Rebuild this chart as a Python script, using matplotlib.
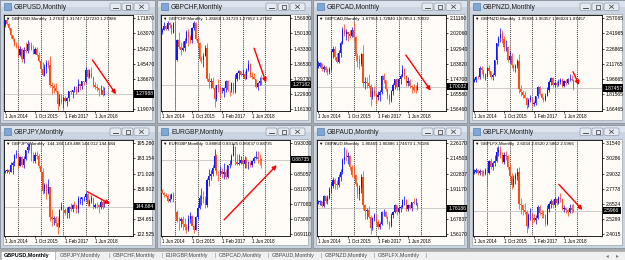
import matplotlib.pyplot as plt
import matplotlib.patches as mpatches
from matplotlib.transforms import blended_transform_factory
import numpy as np

plt.rcParams['font.family'] = ['Liberation Sans', 'DejaVu Sans']

# MONTHLY BARS: index 0 = Jun 2014 ... 53 = Nov 2018
date_pos    = [0, 16, 32, 48]
date_labels = ['1 Jun 2014', '1 Oct 2015', '1 Feb 2017', '1 Jun 2018']
year_starts = [7, 19, 31, 43, 55]          # yearly period separators

# GBPUSD
gbpusd_open0 = 1.6812
gbpusd_close = [1.7105, 1.6878, 1.6596, 1.6211, 1.6000, 1.5640, 1.5577, 1.5059, 1.5434, 1.4834,
                1.5346, 1.5280, 1.5711, 1.5618, 1.5337, 1.5127, 1.5433, 1.5040, 1.4736, 1.4251,
                1.3919, 1.4363, 1.4612, 1.4480, 1.3311, 1.3234, 1.3128, 1.2970, 1.2232, 1.2483,
                1.2340, 1.2574, 1.2417, 1.2551, 1.2948, 1.2884, 1.3025, 1.3205, 1.2933, 1.3398,
                1.3284, 1.3527, 1.3512, 1.4190, 1.3774, 1.4030, 1.3765, 1.3298, 1.3205, 1.3122,
                1.2999, 1.3032, 1.27637, 1.27988]
gbpusd_high  = [1.7110, 1.7192, 1.6924, 1.6644, 1.6227, 1.6069, 1.5786, 1.5588, 1.5552, 1.5448,
                1.5498, 1.5815, 1.5930, 1.5803, 1.5818, 1.5659, 1.5509, 1.5507, 1.5242, 1.4815,
                1.4668, 1.4515, 1.4770, 1.4770, 1.5018, 1.3481, 1.3373, 1.3445, 1.2988, 1.2775,
                1.2774, 1.2706, 1.2706, 1.2615, 1.2966, 1.3048, 1.3031, 1.3234, 1.3269, 1.3657,
                1.3339, 1.3548, 1.3549, 1.4346, 1.4230, 1.4245, 1.4377, 1.3790, 1.3473, 1.3363,
                1.3143, 1.3298, 1.3258, 1.31747]
gbpusd_low   = [1.6693, 1.6823, 1.6536, 1.6052, 1.5874, 1.5591, 1.5486, 1.4951, 1.4990, 1.4633,
                1.4565, 1.5170, 1.5170, 1.5330, 1.5330, 1.5107, 1.5106, 1.5028, 1.4660, 1.4080,
                1.3836, 1.3835, 1.4007, 1.4330, 1.3229, 1.2798, 1.2865, 1.2918, 1.1841, 1.2086,
                1.2200, 1.1988, 1.2346, 1.2109, 1.2365, 1.2772, 1.2589, 1.2933, 1.2774, 1.2910,
                1.3027, 1.3062, 1.3301, 1.3459, 1.3712, 1.3712, 1.3710, 1.3204, 1.3101, 1.2957,
                1.2662, 1.2786, 1.2696, 1.27230]
gbpusd_ticks = [1.71870, 1.63070, 1.54270, 1.45470, 1.36670, 1.27870, 1.19070]
gbpusd_arrow = [46.6, 1.477, 59.2, 1.278]

# GBPCHF
gbpchf_open0 = 1.5060
gbpchf_close = [1.5185, 1.5350, 1.5230, 1.5480, 1.5400, 1.5040, 1.5480, 1.3820, 1.4700, 1.4420,
                1.4290, 1.4360, 1.4690, 1.5090, 1.4850, 1.4740, 1.5240, 1.5470, 1.4760, 1.4580,
                1.3870, 1.3810, 1.4020, 1.4370, 1.2990, 1.2820, 1.2900, 1.2580, 1.2090, 1.2690,
                1.2560, 1.2440, 1.2450, 1.2570, 1.2880, 1.2480, 1.2470, 1.2790, 1.2400, 1.2970,
                1.3250, 1.3310, 1.3170, 1.3210, 1.2990, 1.3390, 1.3640, 1.3110, 1.3080, 1.2990,
                1.2600, 1.2790, 1.28668, 1.27182]
gbpchf_high  = [1.5250, 1.5520, 1.5400, 1.5560, 1.5510, 1.5420, 1.5530, 1.5580, 1.4780, 1.5100,
                1.4620, 1.4690, 1.4810, 1.5160, 1.5220, 1.4950, 1.5300, 1.5550, 1.5520, 1.4860,
                1.4620, 1.4000, 1.4120, 1.4500, 1.4600, 1.3240, 1.3030, 1.3060, 1.2700, 1.2720,
                1.2960, 1.2600, 1.2600, 1.2620, 1.2940, 1.2910, 1.2500, 1.2820, 1.2800, 1.3200,
                1.3290, 1.3390, 1.3350, 1.3400, 1.3350, 1.3480, 1.3840, 1.3700, 1.3280, 1.3230,
                1.2970, 1.2850, 1.3050, 1.31723]
gbpchf_low   = [1.5010, 1.5180, 1.5150, 1.5160, 1.5240, 1.5000, 1.5030, 1.1680, 1.3800, 1.4300,
                1.4050, 1.4220, 1.4220, 1.4580, 1.4450, 1.4600, 1.4580, 1.5150, 1.4700, 1.4350,
                1.3760, 1.3680, 1.3500, 1.4000, 1.2880, 1.2550, 1.2550, 1.2520, 1.1700, 1.2000,
                1.2400, 1.2130, 1.2330, 1.2180, 1.2370, 1.2450, 1.2230, 1.2400, 1.2300, 1.2350,
                1.2900, 1.2980, 1.3100, 1.3080, 1.2910, 1.2950, 1.3310, 1.3060, 1.2970, 1.2950,
                1.2550, 1.2480, 1.2700, 1.27052]
gbpchf_ticks = [1.56930, 1.50130, 1.43330, 1.36530, 1.29730, 1.22930, 1.16130]
gbpchf_arrow = [49.1, 1.435, 55.5, 1.281]

# GBPCAD
gbpcad_open0 = 1.8170
gbpcad_close = [1.8250, 1.8410, 1.8040, 1.8160, 1.8030, 1.7880, 1.8070, 1.9120, 1.9290, 1.8780,
                1.8510, 1.9010, 1.9620, 2.0430, 2.0180, 2.0270, 2.0190, 2.0080, 2.0390, 1.9980,
                1.8830, 1.8660, 1.8340, 1.8970, 1.7200, 1.7270, 1.7220, 1.7020, 1.6400, 1.6760,
                1.6580, 1.6370, 1.6500, 1.6710, 1.7670, 1.7390, 1.6890, 1.6470, 1.6170, 1.6720,
                1.7120, 1.7450, 1.6970, 1.7450, 1.7670, 1.8070, 1.7660, 1.7220, 1.7350, 1.7070,
                1.6960, 1.6820, 1.67956, 1.70032]
gbpcad_high  = [1.8560, 1.8520, 1.8420, 1.8320, 1.8240, 1.8120, 1.8190, 1.9200, 1.9470, 1.9480,
                1.9030, 1.9240, 1.9730, 2.0580, 2.0800, 2.0460, 2.0320, 2.0440, 2.0600, 2.0920,
                2.0040, 1.9020, 1.8900, 1.9060, 1.9540, 1.7560, 1.7580, 1.7760, 1.7170, 1.6970,
                1.7050, 1.6620, 1.6720, 1.6800, 1.7720, 1.7800, 1.7420, 1.6940, 1.6580, 1.6830,
                1.7200, 1.7480, 1.7500, 1.7520, 1.7780, 1.8330, 1.8120, 1.7720, 1.7560, 1.7490,
                1.7080, 1.7190, 1.7130, 1.72840]
gbpcad_low   = [1.8150, 1.8160, 1.7960, 1.7860, 1.7880, 1.7720, 1.7790, 1.7970, 1.8750, 1.8640,
                1.8410, 1.8440, 1.8800, 1.9580, 2.0040, 1.9800, 1.9760, 1.9960, 1.9980, 1.9760,
                1.8580, 1.8200, 1.8040, 1.8220, 1.6980, 1.6880, 1.6940, 1.6940, 1.5820, 1.6250,
                1.6460, 1.5960, 1.6200, 1.6160, 1.6580, 1.7200, 1.6740, 1.6280, 1.5980, 1.6080,
                1.6520, 1.6840, 1.6820, 1.6780, 1.7180, 1.7590, 1.7460, 1.7060, 1.7070, 1.6950,
                1.6630, 1.6710, 1.6620, 1.67853]
gbpcad_ticks = [2.11180, 2.02060, 1.92940, 1.83820, 1.74700, 1.65580, 1.56460]
gbpcad_arrow = [46.8, 1.891, 60.1, 1.677]

# GBPNZD
gbpnzd_open0 = 1.9400
gbpnzd_close = [1.9530, 1.9880, 1.9830, 2.0780, 2.0510, 1.9970, 1.9970, 2.0710, 2.0440, 1.9830,
                2.0110, 2.1520, 2.3210, 2.3700, 2.4150, 2.3670, 2.2800, 2.2890, 2.1540, 2.1990,
                2.1030, 2.0760, 2.0960, 2.1420, 1.8670, 1.8360, 1.8110, 1.7820, 1.7110, 1.7580,
                1.7780, 1.7180, 1.7250, 1.7930, 1.8870, 1.8200, 1.7770, 1.7580, 1.8010, 1.8560,
                1.9390, 1.9780, 1.9060, 1.9250, 1.9100, 1.9410, 1.9580, 1.9000, 1.9510, 1.9270,
                1.9640, 1.9690, 1.95836, 1.87457]
gbpnzd_high  = [1.9720, 1.9990, 2.0110, 2.0920, 2.0950, 2.0560, 2.0250, 2.0840, 2.1020, 2.0490,
                2.0260, 2.1590, 2.3290, 2.3960, 2.4700, 2.4500, 2.3900, 2.3500, 2.2960, 2.2420,
                2.2210, 2.1120, 2.1140, 2.1680, 2.2120, 1.9060, 1.8580, 1.8490, 1.7890, 1.7760,
                1.8070, 1.7820, 1.7430, 1.8000, 1.8970, 1.8950, 1.8280, 1.7920, 1.8260, 1.8900,
                1.9570, 1.9850, 1.9830, 1.9420, 1.9480, 1.9630, 1.9800, 1.9740, 1.9600, 1.9620,
                1.9760, 2.0150, 2.0020, 1.96357]
gbpnzd_low   = [1.9330, 1.9330, 1.9640, 1.9690, 2.0140, 1.9760, 1.9560, 1.9870, 2.0210, 1.9680,
                1.9560, 1.9980, 2.1200, 2.2920, 2.3330, 2.3230, 2.2500, 2.2480, 2.1400, 2.1300,
                2.0800, 2.0450, 2.0350, 2.0760, 1.8220, 1.7950, 1.7790, 1.7730, 1.6700, 1.6850,
                1.7390, 1.6940, 1.6980, 1.7120, 1.7770, 1.8090, 1.7630, 1.7380, 1.7440, 1.7960,
                1.8400, 1.9060, 1.8830, 1.8900, 1.8880, 1.8960, 1.9180, 1.8880, 1.8830, 1.9020,
                1.9120, 1.9450, 1.9430, 1.86024]
gbpnzd_ticks = [2.57065, 2.41965, 2.26865, 2.11765, 1.96665, 1.81565, 1.66465]
gbpnzd_arrow = [52.8, 2.039, 56.0, 1.907]

# GBPJPY
gbpjpy_open0 = 172.20
gbpjpy_close = [173.30, 173.60, 172.60, 177.80, 179.70, 185.60, 186.90, 177.20, 184.20, 178.00,
                183.10, 189.60, 192.30, 193.70, 185.80, 181.40, 186.00, 185.00, 177.50, 172.60,
                156.80, 161.90, 155.70, 160.00, 136.40, 134.90, 135.70, 131.20, 128.20, 142.10,
                144.40, 141.90, 139.50, 139.70, 144.30, 142.70, 146.00, 145.50, 142.50, 150.70,
                150.90, 152.20, 152.30, 154.60, 146.80, 149.10, 151.60, 144.40, 146.20, 146.10,
                144.30, 148.10, 144.184, 144.684]
gbpjpy_high  = [174.00, 175.00, 174.80, 180.00, 180.80, 186.50, 190.10, 187.20, 185.00, 185.40,
                185.00, 190.00, 195.90, 195.20, 195.50, 188.10, 188.70, 189.40, 186.40, 178.50,
                175.80, 163.20, 163.90, 166.60, 160.70, 142.50, 136.90, 137.00, 136.00, 142.60,
                148.40, 146.30, 143.50, 144.60, 145.20, 147.50, 146.70, 149.20, 146.40, 152.80,
                152.50, 152.30, 152.90, 156.60, 155.60, 150.50, 153.80, 151.30, 147.20, 148.00,
                146.80, 149.60, 149.70, 149.488]
gbpjpy_low   = [171.80, 171.90, 170.50, 172.40, 170.50, 177.10, 183.90, 175.80, 176.80, 176.40,
                175.50, 182.30, 187.70, 190.30, 180.80, 179.70, 179.20, 182.70, 175.40, 165.60,
                154.80, 155.40, 150.80, 154.90, 133.30, 129.50, 129.60, 129.30, 122.40, 128.40,
                141.60, 135.60, 138.20, 135.70, 135.60, 140.90, 140.00, 143.80, 139.30, 139.90,
                146.80, 146.10, 148.80, 149.80, 145.50, 145.00, 147.70, 142.70, 143.90, 143.50,
                139.90, 142.80, 142.80, 144.012]
gbpjpy_ticks = [195.280, 183.154, 171.028, 158.902, 146.776, 134.651, 122.525]
gbpjpy_arrow = [43.9, 156.6, 56.0, 146.8]

# EURGBP
eurgbp_open0 = 0.8040
eurgbp_close = [0.8006, 0.7932, 0.7914, 0.7780, 0.7836, 0.7960, 0.7765, 0.7505, 0.7258, 0.7254,
                0.7312, 0.7181, 0.7094, 0.7035, 0.7312, 0.7398, 0.7136, 0.7029, 0.7372, 0.7598,
                0.7868, 0.7898, 0.7838, 0.7682, 0.8326, 0.8440, 0.8508, 0.8653, 0.8957, 0.8527,
                0.8526, 0.8575, 0.8505, 0.8546, 0.8409, 0.8720, 0.8771, 0.8973, 0.9207, 0.8821,
                0.8772, 0.8798, 0.8877, 0.8762, 0.8864, 0.8775, 0.8779, 0.8744, 0.8845, 0.8918,
                0.8935, 0.8900, 0.88860, 0.88735]
eurgbp_high  = [0.8095, 0.8020, 0.8000, 0.7960, 0.7960, 0.8000, 0.8035, 0.7780, 0.7560, 0.7360,
                0.7370, 0.7400, 0.7350, 0.7170, 0.7410, 0.7490, 0.7430, 0.7160, 0.7380, 0.7710,
                0.7950, 0.8120, 0.8040, 0.7920, 0.8400, 0.8620, 0.8600, 0.8720, 0.9150, 0.9010,
                0.8580, 0.8700, 0.8660, 0.8790, 0.8640, 0.8740, 0.8860, 0.9030, 0.9307, 0.9240,
                0.9030, 0.9020, 0.8970, 0.8960, 0.8970, 0.8930, 0.8840, 0.8830, 0.8860, 0.8960,
                0.9100, 0.9090, 0.9020, 0.89125]
eurgbp_low   = [0.7990, 0.7880, 0.7880, 0.7760, 0.7760, 0.7830, 0.7760, 0.7410, 0.7240, 0.7016,
                0.7090, 0.7030, 0.7020, 0.6936, 0.6990, 0.7200, 0.7130, 0.6940, 0.7020, 0.7320,
                0.7570, 0.7680, 0.7730, 0.7600, 0.7640, 0.8190, 0.8340, 0.8450, 0.8610, 0.8470,
                0.8300, 0.8450, 0.8400, 0.8370, 0.8370, 0.8380, 0.8660, 0.8730, 0.8980, 0.8740,
                0.8740, 0.8730, 0.8750, 0.8700, 0.8660, 0.8660, 0.8630, 0.8690, 0.8680, 0.8780,
                0.8880, 0.8790, 0.8720, 0.86637]
eurgbp_ticks = [0.93030, 0.89043, 0.85057, 0.81070, 0.77083, 0.73097, 0.69110]
eurgbp_arrow = [33.1, 0.729, 61.2, 0.873]

# GBPAUD
gbpaud_open0 = 1.8050
gbpaud_close = [1.8140, 1.8170, 1.7770, 1.8530, 1.8180, 1.8400, 1.9070, 1.9360, 1.9760, 1.9470,
                1.9400, 2.0000, 2.0400, 2.1370, 2.1570, 2.1550, 2.1650, 2.0800, 2.0210, 2.0160,
                1.9490, 1.8750, 1.9200, 2.0030, 1.7870, 1.7410, 1.7460, 1.6950, 1.6090, 1.6890,
                1.7110, 1.6590, 1.6190, 1.6430, 1.7310, 1.7340, 1.6940, 1.6530, 1.6270, 1.7090,
                1.7360, 1.7870, 1.7320, 1.7610, 1.7730, 1.8270, 1.8280, 1.7570, 1.7840, 1.7660,
                1.8080, 1.8020, 1.80465, 1.76186]
gbpaud_high  = [1.8270, 1.8260, 1.8200, 1.8640, 1.8590, 1.8620, 1.9230, 1.9620, 2.0020, 1.9980,
                1.9780, 2.0280, 2.0640, 2.1470, 2.2370, 2.2150, 2.1950, 2.1750, 2.0980, 2.0870,
                2.0280, 1.9650, 1.9420, 2.0240, 2.0520, 1.7980, 1.7640, 1.7770, 1.7110, 1.6930,
                1.7290, 1.7210, 1.6710, 1.6540, 1.7400, 1.7550, 1.7400, 1.7020, 1.6660, 1.7260,
                1.7420, 1.7930, 1.7900, 1.7760, 1.7870, 1.8340, 1.8560, 1.8350, 1.7970, 1.7910,
                1.8120, 1.8410, 1.8380, 1.80486]
gbpaud_low   = [1.7930, 1.7880, 1.7680, 1.7720, 1.8010, 1.7980, 1.8330, 1.8780, 1.9200, 1.9070,
                1.9080, 1.9220, 1.9700, 2.0260, 2.1060, 2.1290, 2.1050, 2.0550, 2.0020, 1.9880,
                1.9300, 1.8430, 1.8230, 1.8820, 1.7450, 1.6830, 1.6800, 1.6870, 1.5660, 1.5960,
                1.6660, 1.6330, 1.6060, 1.6000, 1.6330, 1.7000, 1.6890, 1.6380, 1.6030, 1.6150,
                1.6850, 1.7260, 1.7100, 1.7230, 1.7340, 1.7670, 1.7890, 1.7440, 1.7430, 1.7530,
                1.7420, 1.7960, 1.7880, 1.74673]
gbpaud_ticks = [2.26170, 2.14503, 2.02837, 1.91170, 1.79503, 1.67837, 1.56170]
gbpaud_arrow = None

# GBPLFX
gbplfx_open0 = 2.9100
gbplfx_close = [2.9200, 2.9350, 2.9050, 2.9250, 2.9150, 2.9000, 2.9300, 2.9100, 3.0100, 2.9600,
                2.9900, 3.0100, 3.0800, 3.1000, 3.0600, 3.0000, 3.0600, 3.0500, 2.9600, 2.8800,
                2.8100, 2.8600, 2.8800, 2.9200, 2.6500, 2.6400, 2.6000, 2.5900, 2.4700, 2.5600,
                2.5600, 2.5400, 2.5200, 2.5400, 2.6300, 2.5800, 2.5700, 2.5600, 2.4900, 2.6100,
                2.6500, 2.6800, 2.6400, 2.6900, 2.6600, 2.7000, 2.6900, 2.6100, 2.6200, 2.6000,
                2.5900, 2.6200, 2.6034, 2.5966]
gbplfx_high  = [2.9400, 2.9500, 2.9400, 2.9450, 2.9350, 2.9300, 2.9500, 2.9600, 3.0200, 3.0300,
                3.0100, 3.0600, 3.1200, 3.1300, 3.1300, 3.0800, 3.0800, 3.0900, 3.0600, 2.9800,
                2.9100, 2.8900, 2.9100, 2.9500, 2.9600, 2.7000, 2.6500, 2.6600, 2.6000, 2.5800,
                2.6200, 2.5800, 2.5700, 2.5600, 2.6400, 2.6400, 2.6000, 2.6000, 2.5700, 2.6400,
                2.6700, 2.6900, 2.6900, 2.7100, 2.7000, 2.7200, 2.7400, 2.6900, 2.6400, 2.6300,
                2.6100, 2.6500, 2.6500, 2.6520]
gbplfx_low   = [2.9000, 2.9100, 2.8950, 2.8900, 2.8850, 2.8800, 2.8900, 2.8000, 2.9000, 2.9400,
                2.9300, 2.9700, 3.0000, 3.0500, 3.0300, 2.9900, 2.9800, 3.0200, 2.9400, 2.8400,
                2.7800, 2.7900, 2.8200, 2.8500, 2.6100, 2.5700, 2.5600, 2.5700, 2.4100, 2.4500,
                2.5200, 2.4800, 2.5000, 2.4900, 2.5300, 2.5600, 2.5400, 2.5400, 2.4700, 2.4800,
                2.5900, 2.6200, 2.6200, 2.6300, 2.6400, 2.6500, 2.6700, 2.6000, 2.5900, 2.5800,
                2.5500, 2.5800, 2.5800, 2.5862]
gbplfx_ticks = [3.1540, 3.0286, 2.9032, 2.7778, 2.6524, 2.5269, 2.4015]
gbplfx_arrow = [45.2, 2.815, 57.8, 2.603]

tab_labels = ['GBPUSD', 'GBPJPY', 'GBPCHF', 'EURGBP', 'GBPCAD', 'GBPAUD', 'GBPNZD', 'GBPLFX']

# (name, digits, grid col, grid row, data...)
charts = [
    ('GBPUSD', 5, 0, 0, gbpusd_open0, gbpusd_close, gbpusd_high, gbpusd_low, gbpusd_ticks, gbpusd_arrow),
    ('GBPCHF', 5, 1, 0, gbpchf_open0, gbpchf_close, gbpchf_high, gbpchf_low, gbpchf_ticks, gbpchf_arrow),
    ('GBPCAD', 5, 2, 0, gbpcad_open0, gbpcad_close, gbpcad_high, gbpcad_low, gbpcad_ticks, gbpcad_arrow),
    ('GBPNZD', 5, 3, 0, gbpnzd_open0, gbpnzd_close, gbpnzd_high, gbpnzd_low, gbpnzd_ticks, gbpnzd_arrow),
    ('GBPJPY', 3, 0, 1, gbpjpy_open0, gbpjpy_close, gbpjpy_high, gbpjpy_low, gbpjpy_ticks, gbpjpy_arrow),
    ('EURGBP', 5, 1, 1, eurgbp_open0, eurgbp_close, eurgbp_high, eurgbp_low, eurgbp_ticks, eurgbp_arrow),
    ('GBPAUD', 5, 2, 1, gbpaud_open0, gbpaud_close, gbpaud_high, gbpaud_low, gbpaud_ticks, gbpaud_arrow),
    ('GBPLFX', 4, 3, 1, gbplfx_open0, gbplfx_close, gbplfx_high, gbplfx_low, gbplfx_ticks, gbplfx_arrow),
]

#   LAYOUT (pixels)
W, H   = 625, 260
win_x  = [0, 157, 313, 469]
win_w  = [155, 154, 154, 156]
win_y  = [0, 125]
win_h  = 123
bull, bear = '#1414FF', '#FF4A14'
chart_bg   = '#FFFBF7'
frame_col  = '#CBD5E1'

def px_rect(l, t, w, h):
    return [l / W, 1 - (t + h) / H, w / W, h / H]

fig = plt.figure(figsize=(W / 100, H / 100), dpi=100, facecolor='#ABABAB')
bg = fig.add_axes([0, 0, 1, 1])
bg.set_xlim(0, W); bg.set_ylim(H, 0); bg.axis('off')

for name, digits, col, row, open0, close, high, low, ticks, arrow in charts:
    x0, y0, w = win_x[col], win_y[row], win_w[col]
    # window frame + title bar
    bg.add_patch(mpatches.Rectangle((x0, y0), w, win_h, fc=frame_col, ec='#7E8A99', lw=0.5))
    bg.add_patch(mpatches.Rectangle((x0 + 0.5, y0 + 0.5), w - 1, 6, fc='#DCE3EC', ec='none'))
    bg.add_patch(mpatches.Rectangle((x0 + 4, y0 + 3), 7, 7, fc='#7DA7D6', ec='#4A6F9C', lw=0.4))
    bg.text(x0 + 14, y0 + 7.2, f'{name},Monthly', fontsize=4.8, va='center', ha='left', color='#1A1A1A')
    for bx, bw in [(w - 45, 11), (w - 33, 11), (w - 21, 15)]:
        bg.add_patch(mpatches.FancyBboxPatch((x0 + bx, y0 + 3), bw, 7.5,
                     boxstyle='round,pad=0,rounding_size=1.5', fc='#E6EBF2', ec='#7F8B9A', lw=0.4))
    bg.plot([x0 + w - 42, x0 + w - 37], [y0 + 8, y0 + 8], color='#333333', lw=0.6)
    bg.add_patch(mpatches.Rectangle((x0 + w - 29.5, y0 + 5), 4, 3.5, fc='none', ec='#333333', lw=0.5))
    bg.plot([x0 + w - 15.5, x0 + w - 11.5], [y0 + 5, y0 + 8.5], color='#333333', lw=0.5)
    bg.plot([x0 + w - 15.5, x0 + w - 11.5], [y0 + 8.5, y0 + 5], color='#333333', lw=0.5)
    # client area
    bg.add_patch(mpatches.Rectangle((x0 + 3, y0 + 14), w - 6, win_h - 17, fc=chart_bg, ec='#8A929C', lw=0.4))

    ax = fig.add_axes(px_rect(x0 + 4, y0 + 15, 129, 96))
    ax.set_facecolor(chart_bg)
    c = np.array(close)
    o = np.r_[open0, c[:-1]]
    hi = np.maximum(high, np.maximum(o, c))
    lo = np.minimum(low, np.minimum(o, c))
    x = np.arange(len(c))
    cols = np.where(c >= o, bull, bear)
    step = ticks[0] - ticks[1]

    for ys in year_starts:
        ax.axvline(ys, color='black', lw=0.6, ls=(0, (1, 1.3)), zorder=1)
    ax.axhline(c[-1], color='#C4C4C4', lw=0.6, zorder=1)
    ax.vlines(x, lo, hi, colors=cols, lw=0.55, zorder=2)
    ax.bar(x, c - o, bottom=o, width=0.62, color=cols, lw=0, zorder=3)
    if arrow is not None:
        ax.annotate('', xy=(arrow[2], arrow[3]), xytext=(arrow[0], arrow[1]),
                    arrowprops=dict(arrowstyle='-|>', color='#FF0000', lw=1.0,
                                    shrinkA=0, shrinkB=0, mutation_scale=6), zorder=5)

    ax.set_xlim(-0.55, 68.25)
    ax.set_ylim(ticks[-1] - 0.112 * step, ticks[0] + 0.2175 * step)
    shown = [t for t in ticks if abs(t - c[-1]) > 0.3 * step]
    ax.yaxis.tick_right()
    ax.set_yticks(shown, [f'{t:.{digits}f}' for t in shown])
    ax.set_xticks(date_pos, date_labels)
    for lbl in ax.get_xticklabels():
        lbl.set_ha('left')
    ax.tick_params(axis='y', length=1.6, width=0.5, pad=0.8, labelsize=3.6)
    ax.tick_params(axis='x', length=1.6, width=0.5, pad=0.8, labelsize=3.3)
    for sp in ax.spines.values():
        sp.set_linewidth(0.6); sp.set_color('black')

    # current price box
    tr = blended_transform_factory(ax.transAxes, ax.transData)
    ax.text(1.0 + 2.2 / 129, c[-1], f'{c[-1]:.{digits}f}', transform=tr, ha='left', va='center',
            fontsize=3.6, color='white', clip_on=False, zorder=10,
            bbox=dict(boxstyle='square,pad=0.25', fc='black', ec='none'))
    # header line
    ax.text(2 / 129, 1 - 4.2 / 96,
            f'\u25BC {name},Monthly  {o[-1]:.{digits}f} {hi[-1]:.{digits}f} {lo[-1]:.{digits}f} {c[-1]:.{digits}f}',
            transform=ax.transAxes, ha='left', va='center', fontsize=3.2, color='black', zorder=6)

# TAB BAR
bg.add_patch(mpatches.Rectangle((0, 250.5), W, 9.5, fc='#F0F0F0', ec='#A0A0A0', lw=0.4))
bg.add_patch(mpatches.Rectangle((1, 250.5), 54, 9.5, fc='white', ec='#8E8E8E', lw=0.4))
tab_x = [4, 60, 113, 166, 219, 272, 325, 378]
for k, (tx, lab) in enumerate(zip(tab_x, tab_labels)):
    bg.text(tx, 255.5, f'{lab},Monthly', fontsize=3.9, va='center', ha='left',
            color='black' if k == 0 else '#444444', fontweight='bold' if k == 0 else 'normal')
    if k > 1:
        bg.text(tx - 4, 255.5, '|', fontsize=3.9, va='center', ha='center', color='#888888')
bg.text(426, 255.5, '|', fontsize=3.9, va='center', ha='center', color='#888888')
bg.text(607, 255.5, '\u25C2', fontsize=4, va='center', ha='center', color='#777777')
bg.text(617, 255.5, '\u25B8', fontsize=4, va='center', ha='center', color='#777777')

plt.savefig('out.png', dpi=100, facecolor=fig.get_facecolor())
